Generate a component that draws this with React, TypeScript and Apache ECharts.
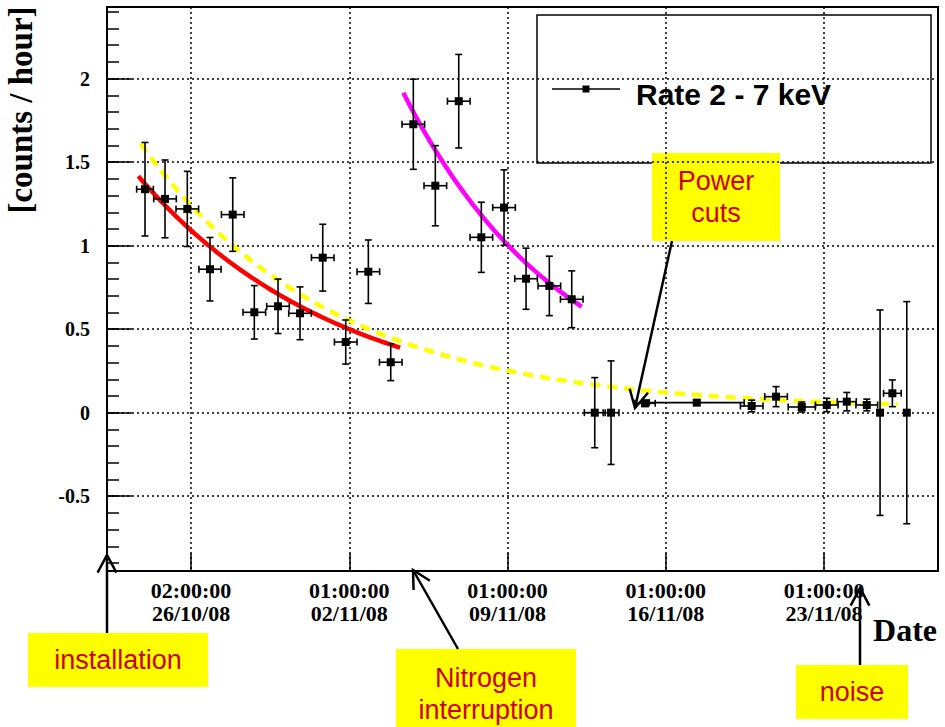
import React, { useEffect, useRef } from "react";
import * as echarts from "echarts";

// Time axis: days since 26/10/08 02:00:00
const tickDays = [0, 7, 14, 21, 28];
const tickLabels = [
  "02:00:00\n26/10/08",
  "01:00:00\n02/11/08",
  "01:00:00\n09/11/08",
  "01:00:00\n16/11/08",
  "01:00:00\n23/11/08",
];
const rateTicks = [-0.5, 0, 0.5, 1, 1.5, 2];

// Measured rate (2 - 7 keV) per time bin
const binDays = [
  -2.035, -1.15, -0.164, 0.84, 1.845, 2.8, 3.848, 4.822, 5.826, 6.843, 7.843,
  8.834, 9.833, 10.806, 11.842, 12.841, 13.845, 14.819, 15.849, 16.84, 17.858,
  18.579, 20.082, 22.369, 24.8, 25.877, 27.014, 28.12, 29.005, 29.89, 30.477,
  31.022, 31.659,
];
const binHalfWidth = [
  0.37, 0.5, 0.5, 0.49, 0.5, 0.5, 0.5, 0.5, 0.5, 0.5, 0.5, 0.5, 0.5, 0.5, 0.5,
  0.5, 0.5, 0.5, 0.5, 0.5, 0.46, 0.35, 0.45, 2.1, 0.5, 0.5, 0.6, 0.5, 0.42,
  0.48, 0, 0.39, 0,
];
const rate = [
  1.338, 1.28, 1.22, 0.859, 1.186, 0.601, 0.637, 0.595, 0.928, 0.423, 0.844,
  0.302, 1.727, 1.359, 1.865, 1.05, 1.228, 0.802, 0.759, 0.679, 0, 0, 0.056,
  0.06, 0.04, 0.096, 0.034, 0.046, 0.066, 0.046, 0, 0.116, 0,
];
const rateErr = [
  0.28, 0.233, 0.225, 0.19, 0.22, 0.16, 0.163, 0.158, 0.2, 0.132, 0.19, 0.11,
  0.27, 0.24, 0.28, 0.21, 0.226, 0.183, 0.178, 0.17, 0.21, 0.31, 0.018, 0.015,
  0.035, 0.06, 0.03, 0.04, 0.055, 0.035, 0.615, 0.08, 0.665,
];

// Exponential fits: amp * exp(-t / tau) + offset, drawn over [from, to]
const fitAfterInstall = { amp: 1.092, tau: 8.96, offset: 0, from: -2.33, to: 9.25, color: "#ff0000", dashed: false };
const fitGlobal = { amp: 1.221, tau: 8.43, offset: 0.02, from: -2.23, to: 31.25, color: "#ffff00", dashed: true };
const fitAfterNitrogen = { amp: 7.129, tau: 7.147, offset: 0, from: 9.39, to: 17.28, color: "#ff00ff", dashed: false };

const X_MIN = -3.716;
const X_MAX = 33.04;
const Y_MIN = -0.948;
const Y_MAX = 2.429;

type Fit = typeof fitGlobal;

function fitCurve(f: Fit): number[][] {
  const n = 80;
  const pts: number[][] = [];
  for (let i = 0; i <= n; i++) {
    const t = f.from + ((f.to - f.from) * i) / n;
    pts.push([t, f.amp * Math.exp(-t / f.tau) + f.offset]);
  }
  return pts;
}

function arrow(tail: number[], tip: number[]) {
  const dx = tail[0] - tip[0];
  const dy = tail[1] - tip[1];
  const len = Math.hypot(dx, dy);
  const ux = dx / len;
  const uy = dy / len;
  const a = (28 * Math.PI) / 180;
  const head = 20;
  const rot = (s: number) => [
    tip[0] + head * (Math.cos(s * a) * ux - Math.sin(s * a) * uy),
    tip[1] + head * (Math.sin(s * a) * ux + Math.cos(s * a) * uy),
  ];
  const stroke = { stroke: "#000", lineWidth: 2.5 };
  return [
    { type: "line", shape: { x1: tail[0], y1: tail[1], x2: tip[0], y2: tip[1] }, style: stroke, z: 20 },
    { type: "polyline", shape: { points: [rot(1), tip, rot(-1)] }, style: { ...stroke, fill: null }, z: 20 },
  ];
}

function note(x: number, y: number, w: number, h: number, text: string) {
  return {
    type: "group",
    z: 19,
    children: [
      { type: "rect", shape: { x, y, width: w, height: h }, style: { fill: "#ffff00" } },
      {
        type: "text",
        x: x + w / 2,
        y: y + h / 2,
        style: {
          text,
          fill: "#cc0000",
          font: "27px 'Liberation Sans', Arial, sans-serif",
          align: "center",
          verticalAlign: "middle",
          lineHeight: 32,
        },
      },
    ],
  };
}

export default function App() {
  const ref = useRef<HTMLDivElement>(null);

  useEffect(() => {
    document.body.style.margin = "0";
    const chart = echarts.init(ref.current!, null, { renderer: "svg" });

    const points = binDays.map((t, i) => [t, rate[i], binHalfWidth[i], rateErr[i]]);
    const minorTicks: number[] = [];
    for (let k = -9; k <= 24; k++) minorTicks.push(k / 10);

    const fitSeries = [fitGlobal, fitAfterInstall, fitAfterNitrogen].map((f) => ({
      type: "line",
      data: fitCurve(f),
      showSymbol: false,
      smooth: false,
      z: 3,
      lineStyle: { color: f.color, width: 4.5, type: f.dashed ? [10, 7] : "solid" },
    }));

    chart.setOption({
      animation: false,
      backgroundColor: "#fff",
      grid: {
        left: 107,
        top: 7,
        right: 7,
        bottom: 156,
        show: true,
        borderColor: "#000",
        borderWidth: 2,
        backgroundColor: "transparent",
      },
      xAxis: {
        type: "value",
        min: X_MIN,
        max: X_MAX,
        axisLine: { onZero: false, lineStyle: { color: "#000", width: 2 } },
        axisTick: { customValues: tickDays, inside: true, length: 18, lineStyle: { color: "#000", width: 1.5 } },
        axisLabel: {
          customValues: tickDays,
          formatter: (v: number) => tickLabels[tickDays.indexOf(Math.round(v))] ?? "",
          fontFamily: "'Liberation Serif', 'Times New Roman', serif",
          fontWeight: "bold",
          fontSize: 22,
          lineHeight: 23,
          color: "#000",
          margin: 8,
        },
        splitLine: { show: true, lineStyle: { color: "#000", type: [2, 3], width: 1.5 } },
      },
      yAxis: [
        {
          type: "value",
          min: Y_MIN,
          max: Y_MAX,
          axisLine: { show: true, onZero: false, lineStyle: { color: "#000", width: 2 } },
          axisTick: { show: true, customValues: rateTicks, inside: true, length: 25, lineStyle: { color: "#000", width: 1.5 } },
          axisLabel: {
            customValues: rateTicks,
            formatter: (v: number) => String(Math.round(v * 10) / 10),
            fontFamily: "'Liberation Serif', 'Times New Roman', serif",
            fontWeight: "bold",
            fontSize: 20,
            color: "#000",
            margin: 17,
          },
          splitLine: { show: true, lineStyle: { color: "#000", type: [2, 3], width: 1.5 } },
        },
        {
          type: "value",
          min: Y_MIN,
          max: Y_MAX,
          position: "left",
          offset: 0,
          axisLine: { show: false, onZero: false },
          axisTick: { show: true, customValues: minorTicks, inside: true, length: 12, lineStyle: { color: "#000", width: 1.5 } },
          axisLabel: { show: false },
          splitLine: { show: false },
        },
      ],
      series: [
        ...fitSeries,
        {
          type: "custom",
          z: 5,
          data: points,
          renderItem: (_params: any, api: any) => {
            const t = api.value(0);
            const y = api.value(1);
            const dt = api.value(2);
            const dy = api.value(3);
            const c = api.coord([t, y]);
            const style = { stroke: "#000", lineWidth: 1.6 };
            const children: any[] = [];
            if (dy > 0) {
              const top = api.coord([t, y + dy]);
              const bot = api.coord([t, y - dy]);
              children.push(
                { type: "line", shape: { x1: c[0], y1: top[1], x2: c[0], y2: bot[1] }, style },
                { type: "line", shape: { x1: c[0] - 3.5, y1: top[1], x2: c[0] + 3.5, y2: top[1] }, style },
                { type: "line", shape: { x1: c[0] - 3.5, y1: bot[1], x2: c[0] + 3.5, y2: bot[1] }, style }
              );
            }
            if (dt > 0) {
              const l = api.coord([t - dt, y]);
              const r = api.coord([t + dt, y]);
              children.push(
                { type: "line", shape: { x1: l[0], y1: c[1], x2: r[0], y2: c[1] }, style },
                { type: "line", shape: { x1: l[0], y1: c[1] - 3.5, x2: l[0], y2: c[1] + 3.5 }, style },
                { type: "line", shape: { x1: r[0], y1: c[1] - 3.5, x2: r[0], y2: c[1] + 3.5 }, style }
              );
            }
            children.push({ type: "rect", shape: { x: c[0] - 4, y: c[1] - 4, width: 8, height: 8 }, style: { fill: "#000" } });
            return { type: "group", children };
          },
        },
      ],
      graphic: [
        // legend box
        {
          type: "group",
          z: 15,
          children: [
            { type: "rect", shape: { x: 537, y: 15, width: 394, height: 148 }, style: { fill: "#fff", stroke: "#000", lineWidth: 1.5 } },
            { type: "line", shape: { x1: 552, y1: 89, x2: 620, y2: 89 }, style: { stroke: "#000", lineWidth: 1.5 } },
            { type: "rect", shape: { x: 582.5, y: 85.5, width: 7, height: 7 }, style: { fill: "#000" } },
            {
              type: "text",
              x: 636,
              y: 94,
              style: {
                text: "Rate 2 - 7 keV",
                fill: "#000",
                font: "bold 30px 'Liberation Sans', Arial, sans-serif",
                align: "left",
                verticalAlign: "middle",
              },
            },
          ],
        },
        // axis titles
        {
          type: "text",
          x: 21,
          y: 110,
          rotation: Math.PI / 2,
          style: {
            text: "[counts / hour]",
            fill: "#000",
            font: "bold 33px 'Liberation Serif', 'Times New Roman', serif",
            align: "center",
            verticalAlign: "middle",
          },
        },
        {
          type: "text",
          x: 937,
          y: 630,
          style: {
            text: "Date",
            fill: "#000",
            font: "bold 32px 'Liberation Serif', 'Times New Roman', serif",
            align: "right",
            verticalAlign: "middle",
          },
        },
        // annotations
        note(28, 633, 180, 54, "installation"),
        ...arrow([107, 633], [107, 555]),
        note(396, 649, 180, 90, "Nitrogen\ninterruption"),
        ...arrow([458, 649], [413, 570]),
        note(652, 153, 128, 88, "Power\ncuts"),
        ...arrow([672, 241], [635, 408]),
        note(796, 665, 112, 54, "noise"),
        ...arrow([860, 665], [860, 588]),
      ],
    });

    return () => chart.dispose();
  }, []);

  return (
    <div
      ref={ref}
      style={{ position: "fixed", left: 0, top: 0, width: 945, height: 727 }}
    />
  );
}
